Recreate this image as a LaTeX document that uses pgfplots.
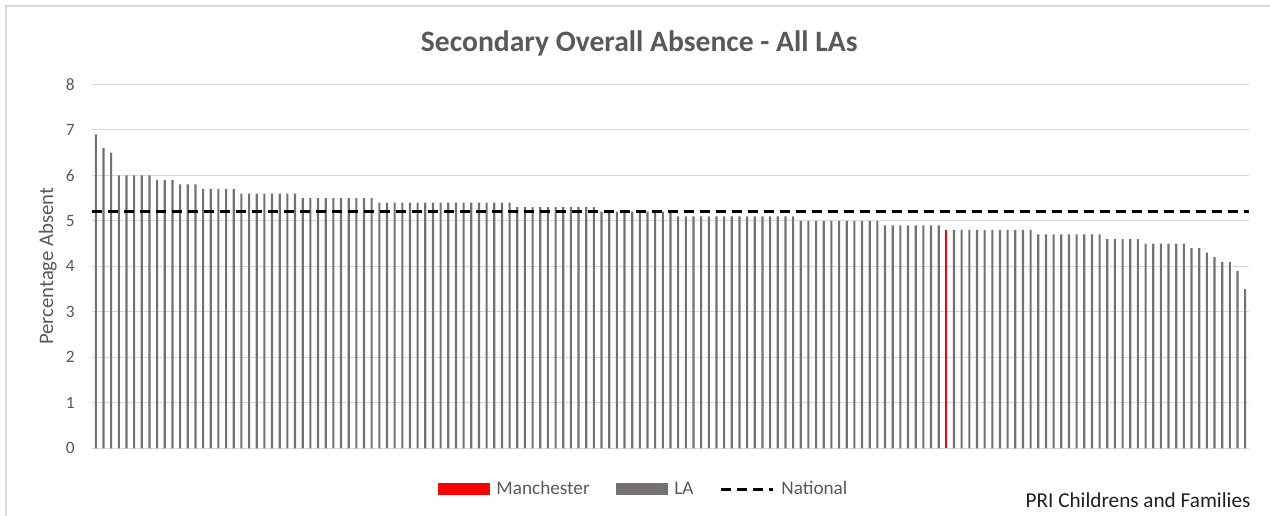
\documentclass[border=0pt]{standalone}
\usepackage{fontspec}
\setmainfont{Carlito}
\usepackage{pgfplots}
\pgfplotsset{compat=1.18}
\definecolor{txtgray}{HTML}{595959}
\definecolor{gridgray}{HTML}{D9D9D9}
\definecolor{lagray}{HTML}{767171}
\definecolor{mred}{HTML}{FF0000}
\begin{document}
\begin{tikzpicture}
\useasboundingbox (0,0) rectangle (952.5pt,386.25pt);
\draw[gridgray,line width=1.1pt] (4.5pt,-5pt) -- (4.5pt,381.75pt) -- (960pt,381.75pt);
\begin{axis}[
  at={(69pt,50pt)}, anchor=south west,
  scale only axis, width=867.75pt, height=273pt,
  xmin=0.5, xmax=151.5, ymin=0, ymax=8,
  ytick={0,1,2,3,4,5,6,7,8}, xtick=\empty,
  axis line style={draw=none}, tick style={draw=none},
  ymajorgrids, major grid style={gridgray, line width=0.75pt},
  /pgf/number format/assume math mode=true,
  yticklabel style={font=\fontsize{13}{15}\selectfont, text=txtgray, inner sep=0pt, xshift=-12.75pt},
  title={Secondary Overall Absence - All LAs},
  title style={at={(axis description cs:0.473,1)}, anchor=base, yshift=18.6pt, font=\bfseries\fontsize{22.2}{26}\selectfont, text=txtgray},
  ylabel={Percentage Absent},
  ylabel style={at={(axis description cs:-0.0337,0.5)}, anchor=base, font=\fontsize{15.5}{18}\selectfont, text=txtgray},
  legend style={at={(axis description cs:0.477,-0.112)}, anchor=center, draw=none, fill=none,
    font=\fontsize{14.4}{17}\selectfont, text=txtgray, legend columns=-1,
    /tikz/every even column/.append style={column sep=17.5pt}},
]
\addplot[ybar, bar width=1.6pt, bar shift=0pt, fill=mred, draw=none,
  legend image code/.code={\fill[mred] (0pt,-4.5pt) rectangle (39pt,4.5pt); \path (42pt,0pt);}]
  coordinates {(112,4.8)};
\addlegendentry{Manchester}
\addplot[ybar, bar width=1.6pt, bar shift=0pt, fill=lagray, draw=none,
  legend image code/.code={\fill[lagray] (0pt,-4.5pt) rectangle (39pt,4.5pt); \path (42pt,0pt);}]
  coordinates {
  (1,6.9) (2,6.6) (3,6.5)
  (4,6.0) (5,6.0) (6,6.0) (7,6.0) (8,6.0)
  (9,5.9) (10,5.9) (11,5.9)
  (12,5.8) (13,5.8) (14,5.8)
  (15,5.7) (16,5.7) (17,5.7) (18,5.7) (19,5.7)
  (20,5.6) (21,5.6) (22,5.6) (23,5.6) (24,5.6) (25,5.6) (26,5.6) (27,5.6)
  (28,5.5) (29,5.5) (30,5.5) (31,5.5) (32,5.5) (33,5.5) (34,5.5) (35,5.5) (36,5.5) (37,5.5)
  (38,5.4) (39,5.4) (40,5.4) (41,5.4) (42,5.4) (43,5.4) (44,5.4) (45,5.4) (46,5.4)
  (47,5.4) (48,5.4) (49,5.4) (50,5.4) (51,5.4) (52,5.4) (53,5.4) (54,5.4) (55,5.4)
  (56,5.3) (57,5.3) (58,5.3) (59,5.3) (60,5.3) (61,5.3) (62,5.3) (63,5.3) (64,5.3) (65,5.3) (66,5.3)
  (67,5.2) (68,5.2) (69,5.2) (70,5.2) (71,5.2) (72,5.2) (73,5.2) (74,5.2) (75,5.2) (76,5.2)
  (77,5.1) (78,5.1) (79,5.1) (80,5.1) (81,5.1) (82,5.1) (83,5.1) (84,5.1)
  (85,5.1) (86,5.1) (87,5.1) (88,5.1) (89,5.1) (90,5.1) (91,5.1) (92,5.1)
  (93,5.0) (94,5.0) (95,5.0) (96,5.0) (97,5.0) (98,5.0) (99,5.0) (100,5.0) (101,5.0) (102,5.0) (103,5.0)
  (104,4.9) (105,4.9) (106,4.9) (107,4.9) (108,4.9) (109,4.9) (110,4.9) (111,4.9)
  (113,4.8) (114,4.8) (115,4.8) (116,4.8) (117,4.8) (118,4.8) (119,4.8) (120,4.8) (121,4.8) (122,4.8) (123,4.8)
  (124,4.7) (125,4.7) (126,4.7) (127,4.7) (128,4.7) (129,4.7) (130,4.7) (131,4.7) (132,4.7)
  (133,4.6) (134,4.6) (135,4.6) (136,4.6) (137,4.6)
  (138,4.5) (139,4.5) (140,4.5) (141,4.5) (142,4.5) (143,4.5)
  (144,4.4) (145,4.4) (146,4.3) (147,4.2) (148,4.1) (149,4.1) (150,3.9) (151,3.5)
  };
\addlegendentry{LA}
\addplot[black, line width=2.4pt, dash pattern=on 7.5pt off 4.5pt,
  legend image code/.code={\draw[black, line width=2.4pt, dash pattern=on 7.5pt off 4.5pt] (0pt,0pt) -- (39pt,0pt); \path (42pt,0pt);}]
  coordinates {(0.5,5.2) (151.5,5.2)};
\addlegendentry{National}
\end{axis}
\node[anchor=base east, inner sep=0pt, font=\fontsize{15.9}{19}\selectfont, text=black!88] at (938pt,6pt) {PRI Childrens and Families};
\end{tikzpicture}
\end{document}
